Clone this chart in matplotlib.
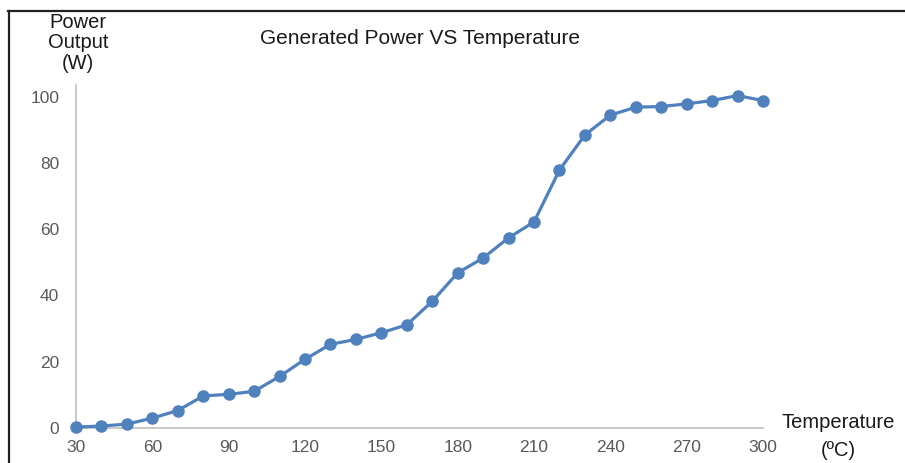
import matplotlib
matplotlib.use("Agg")
import matplotlib.pyplot as plt
from matplotlib.lines import Line2D

# temperature (C)
temp = [30, 40, 50, 60, 70, 80, 90, 100, 110, 120, 130, 140, 150, 160,
        170, 180, 190, 200, 210, 220, 230, 240, 250, 260, 270, 280, 290, 300]

# power output (W)
power = [0.2, 0.5, 1.1, 2.9, 5.2, 9.6, 10.1, 11.0, 15.5, 20.7, 25.2, 26.7,
         28.7, 31.1, 38.2, 46.8, 51.3, 57.4, 62.2, 77.9, 88.5, 94.5, 96.9,
         97.1, 97.9, 98.9, 100.4, 98.9]

xticks = [30, 60, 90, 120, 150, 180, 210, 240, 270, 300]
yticks = [0, 20, 40, 60, 80, 100]

plt.rcParams['font.family'] = ['Liberation Sans', 'DejaVu Sans']

fig = plt.figure(figsize=(9.05, 4.63), dpi=100)
ax = fig.add_axes([0.084, 0.0762, 0.7591, 0.7402])

ax.plot(temp, power, color='#4F81BD', lw=2.3, marker='o', ms=8,
        clip_on=False, zorder=3)

ax.set_xlim(30, 300)
ax.set_ylim(0, 103.6)
ax.set_xticks(xticks)
ax.set_yticks(yticks)
ax.tick_params(length=0, labelsize=12.5, labelcolor='#595959')
ax.tick_params(axis='y', pad=12)
ax.tick_params(axis='x', pad=9)

for s in ['top', 'right']:
    ax.spines[s].set_visible(False)
for s in ['left', 'bottom']:
    ax.spines[s].set_color('#BFBFBF')
    ax.spines[s].set_linewidth(1.2)

# titles placed like the original
fig.text(420/905, 1 - 38/463, 'Generated Power VS Temperature', fontsize=15,
         ha='center', va='center', color='#1a1a1a')
fig.text(78/905, 1 - 43/463, 'Power\nOutput\n(W)', fontsize=14.5,
         ha='center', va='center', linespacing=1.07, color='#1a1a1a')
fig.text(838/905, 1 - 422/463, 'Temperature', fontsize=14.5,
         ha='center', va='center', color='#1a1a1a')
fig.text(838/905, 1 - 450/463, '(ºC)', fontsize=14.5,
         ha='center', va='center', color='#1a1a1a')

# frame lines at top and left
fig.add_artist(Line2D([8/905, 1], [1 - 11/463, 1 - 11/463],
                      color='#222222', lw=1.6, transform=fig.transFigure))
fig.add_artist(Line2D([9/905, 9/905], [0, 1 - 11/463],
                      color='#222222', lw=1.6, transform=fig.transFigure))

fig.savefig('out.png', dpi=100)
